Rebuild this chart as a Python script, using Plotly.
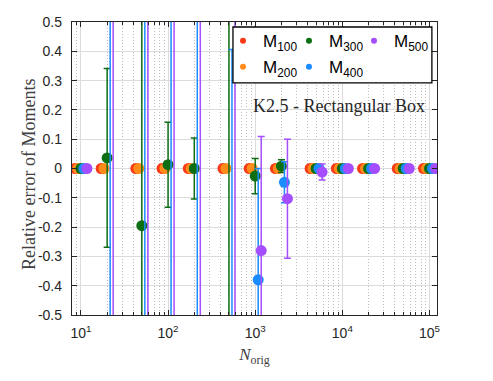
import plotly.graph_objects as go

# ---------------- data ----------------
N_orig = [10, 20, 50, 100, 200, 500, 1000, 2000, 5000, 10000, 20000, 50000, 100000]

series_names = ["M<sub>100</sub>", "M<sub>200</sub>", "M<sub>300</sub>", "M<sub>400</sub>", "M<sub>500</sub>"]

m100 = [0, 0, 0, 0, 0, 0, 0, 0, 0, 0, 0, 0, 0]
m100_err = [0, 0, 0, 0, 0, 0, 0, 0, 0, 0, 0, 0, 0]

m200 = [0, 0, 0, 0, 0, 0, 0, 0, 0, 0, 0, 0, 0]
m200_err = [0, 0, 0, 0, 0, 0, 0, 0, 0, 0, 0, 0, 0]

m300 = [0, 0.036, -0.195, 0.013, 0.0, 0.9, -0.026, 0.008, 0, 0, 0, 0, 0]
m300_err = [0, 0.305, 0.9, 0.145, 0.104, 1.6, 0.06, 0.022, 0, 0, 0, 0, 0]

m400 = [0, 1.1, -0.9, 0.8, -1.2, -0.7, -0.38, -0.047, 0, 0, 0, 0, 0]
m400_err = [0, 2.0, 1.8, 1.6, 2.2, 1.106, 0.38, 0.07, 0, 0, 0, 0, 0]

m500 = [0, -1.0, 1.2, -0.9, 1.0, -1.1, -0.28, -0.103, -0.012, 0, 0, 0, 0]
m500_err = [0, 2.0, 2.0, 1.8, 2.0, 2.0, 0.389, 0.203, 0.027, 0, 0, 0, 0]

y_tick_vals = [-0.5, -0.4, -0.3, -0.2, -0.1, 0, 0.1, 0.2, 0.3, 0.4, 0.5]
y_tick_text = ["-0.5", "-0.4", "-0.3", "-0.2", "-0.1", "0", "0.1", "0.2", "0.3", "0.4", "0.5"]
x_tick_vals = [10, 100, 1000, 10000, 100000]
x_tick_text = ["10<sup>1</sup>", "10<sup>2</sup>", "10<sup>3</sup>", "10<sup>4</sup>", "10<sup>5</sup>"]

# ---------------- style ----------------
colors = ["#F83A16", "#FF8C1A", "#0E6E14", "#1A8CFF", "#A54EFF"]
values = [m100, m200, m300, m400, m500]
errors = [m100_err, m200_err, m300_err, m400_err, m500_err]
dodge = 0.0345  # log10 offset between series within a group
legend_of = ["legend", "legend", "legend2", "legend2", "legend3"]

fig = go.Figure()
for k in range(5):
    xs = [n * 10 ** ((k - 2) * dodge) for n in N_orig]
    fig.add_trace(go.Scatter(
        x=xs, y=values[k], mode="markers",
        marker=dict(color=colors[k], size=11, line=dict(width=0)),
        error_y=dict(type="data", array=errors[k], visible=True,
                     color=colors[k], thickness=1.5, width=3.5),
        showlegend=False, name=series_names[k]))

for k in range(5):
    fig.add_trace(go.Scatter(
        x=[None], y=[None], mode="markers",
        marker=dict(color=colors[k], size=6),
        name=series_names[k], showlegend=True, legend=legend_of[k],
        legendgroup="g%d" % k))

minor_x = [m * 10 ** e for e in range(0, 6) for m in range(2, 10)]

font_ticks = dict(family="Liberation Sans, Arial, sans-serif", size=14, color="#262626")
serif = "Liberation Serif, Times New Roman, serif"

fig.update_xaxes(
    type="log", range=[0.8976, 5.0864],
    tickvals=x_tick_vals, ticktext=x_tick_text, tickfont=font_ticks,
    ticks="inside", ticklen=5, tickcolor="#262626", tickwidth=1,
    showline=True, linecolor="#262626", linewidth=1.3, mirror="ticks",
    showgrid=True, gridcolor="#dcdcdc", gridwidth=1,
    ticklabelstandoff=5,
    minor=dict(tickvals=minor_x, ticks="inside", ticklen=3, tickcolor="#262626",
               showgrid=True, gridcolor="#bdbdbd", griddash="1px,2px", gridwidth=1),
    title=dict(text="<i>N</i><sub>orig</sub>", font=dict(family=serif, size=17, color="#404040"), standoff=8),
    zeroline=False,
)
fig.update_yaxes(
    range=[-0.5, 0.5],
    tickvals=y_tick_vals, ticktext=y_tick_text, tickfont=font_ticks,
    ticks="inside", ticklen=5, tickcolor="#262626", tickwidth=1,
    showline=True, linecolor="#262626", linewidth=1.3, mirror="ticks",
    showgrid=True, gridcolor="#dcdcdc", gridwidth=1,
    ticklabelstandoff=6,
    zeroline=False,
)

legend_common = dict(orientation="v", xanchor="left", yanchor="top",
                     bgcolor="rgba(0,0,0,0)", borderwidth=0, itemwidth=30,
                     tracegroupgap=1, y=0.996,
                     font=dict(family="Liberation Sans, Arial, sans-serif", size=17, color="black"))

fig.update_layout(
    width=485, height=373,
    margin=dict(l=64, r=56, t=14, b=66, autoexpand=False),
    paper_bgcolor="white", plot_bgcolor="white",
    legend=dict(x=0.4137, **legend_common),
    legend2=dict(x=0.5945, **legend_common),
    legend3=dict(x=0.7726, **legend_common),
    shapes=[dict(type="rect", xref="paper", yref="paper", x0=0.441, x1=0.986, y0=0.792, y1=0.983,
                 fillcolor="white", line=dict(color="black", width=1.3), layer="above")],
    annotations=[
        dict(text="K2.5 - Rectangular Box", xref="paper", yref="paper",
             x=0.973, y=0.713, xanchor="right", yanchor="middle", showarrow=False,
             font=dict(family=serif, size=18, color="#262626")),
        dict(text="Relative error of Moments", xref="paper", yref="paper",
             x=-0.1178, y=0.478, xanchor="center", yanchor="middle", textangle=-90,
             showarrow=False, font=dict(family=serif, size=18, color="#404040")),
    ],
)

fig.write_html("out.html")
